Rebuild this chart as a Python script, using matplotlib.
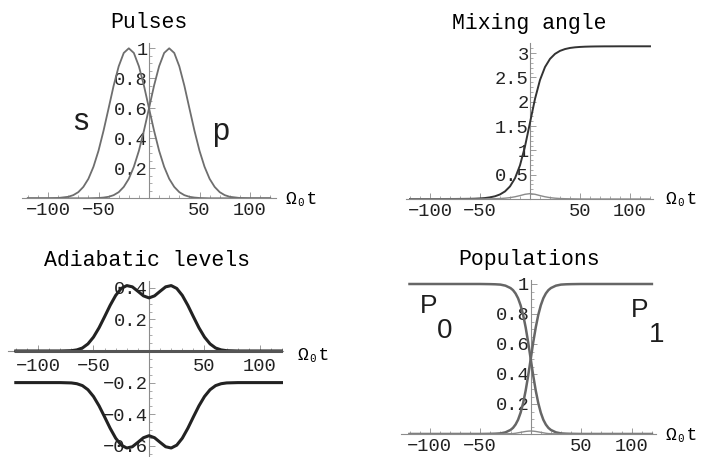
"""
Four-panel STIRAP overview: pulses, mixing angle, adiabatic levels, populations
Mathematica-style axes crossing at the origin
"""
import matplotlib
matplotlib.use('Agg')
import matplotlib.pyplot as plt

plt.rcParams['font.family'] = ['Liberation Mono', 'DejaVu Sans']
plt.rcParams['axes.unicode_minus'] = True

# time grid shared by the first three panels (units of 1/Omega_0)
t = [-120, -110, -100, -90, -80, -75, -70, -65, -60, -55, -50, -45, -40, -35,
     -30, -25, -20, -15, -10, -5, 0, 5, 10, 15, 20, 25, 30, 35, 40, 45, 50,
     55, 60, 65, 70, 75, 80, 90, 100, 110, 120]

# pulses
omega_s = [0, 0, 0, 0.002, 0.010, 0.021, 0.041, 0.076, 0.130, 0.210, 0.317,
           0.451, 0.600, 0.751, 0.880, 0.969, 1.000, 0.969, 0.880, 0.751,
           0.600, 0.451, 0.317, 0.210, 0.130, 0.076, 0.041, 0.021, 0.010,
           0.005, 0.002, 0.001, 0, 0, 0, 0, 0, 0, 0, 0, 0]
omega_p = [0, 0, 0, 0, 0, 0, 0, 0, 0, 0.001, 0.002, 0.005, 0.010, 0.021,
           0.041, 0.076, 0.130, 0.210, 0.317, 0.451, 0.600, 0.751, 0.880,
           0.969, 1.000, 0.969, 0.880, 0.751, 0.600, 0.451, 0.317, 0.210,
           0.130, 0.076, 0.041, 0.021, 0.010, 0.002, 0, 0, 0]

# mixing angle and its small derivative bump
theta = [0, 0, 0, 0, 0.001, 0.001, 0.002, 0.003, 0.004, 0.007, 0.012, 0.020,
         0.034, 0.056, 0.094, 0.156, 0.259, 0.427, 0.693, 1.082, 1.571,
         2.060, 2.449, 2.715, 2.883, 2.986, 3.048, 3.085, 3.108, 3.121,
         3.129, 3.134, 3.137, 3.139, 3.140, 3.141, 3.141, 3.142, 3.142,
         3.142, 3.142]
coupling = [0, 0, 0, 0, 0, 0, 0, 0, 0, 0, 0.001, 0.002, 0.004, 0.006, 0.010,
            0.017, 0.028, 0.046, 0.070, 0.097, 0.110, 0.097, 0.070, 0.046,
            0.028, 0.017, 0.010, 0.006, 0.004, 0.002, 0.001,
            0, 0, 0, 0, 0, 0, 0, 0, 0, 0]

# adiabatic levels
eps_up = [0, 0, 0, 0, 0, 0.001, 0.002, 0.007, 0.019, 0.045, 0.088, 0.147,
          0.217, 0.289, 0.352, 0.396, 0.414, 0.406, 0.378, 0.349, 0.336,
          0.349, 0.378, 0.406, 0.414, 0.396, 0.352, 0.289, 0.217, 0.147,
          0.088, 0.045, 0.019, 0.007, 0.002, 0.001, 0, 0, 0, 0, 0]
eps_mid = [0.0] * 41
eps_down = [-0.200, -0.200, -0.200, -0.200, -0.200, -0.201, -0.202, -0.207,
            -0.219, -0.245, -0.288, -0.347, -0.417, -0.489, -0.552, -0.596,
            -0.614, -0.606, -0.578, -0.549, -0.536, -0.549, -0.578, -0.606,
            -0.614, -0.596, -0.552, -0.489, -0.417, -0.347, -0.288, -0.245,
            -0.219, -0.207, -0.202, -0.201, -0.200, -0.200, -0.200, -0.200,
            -0.200]

# populations (finer grid around the transfer)
t_pop = [-120, -100, -80, -60, -50, -40, -35, -30, -25, -20, -17.5, -15,
         -12.5, -10, -7.5, -5, -2.5, 0, 2.5, 5, 7.5, 10, 12.5, 15, 17.5, 20,
         25, 30, 35, 40, 50, 60, 80, 100, 120]
pop_0 = [1, 1, 1, 1, 1, 0.999, 0.998, 0.996, 0.989, 0.973, 0.959, 0.937,
         0.905, 0.858, 0.794, 0.711, 0.611, 0.500, 0.389, 0.289, 0.206,
         0.142, 0.095, 0.063, 0.041, 0.027, 0.011, 0.004, 0.002, 0.001,
         0, 0, 0, 0, 0]
pop_1 = [0, 0, 0, 0, 0, 0.001, 0.002, 0.004, 0.011, 0.027, 0.041, 0.063,
         0.095, 0.142, 0.206, 0.289, 0.389, 0.500, 0.611, 0.711, 0.794,
         0.858, 0.905, 0.937, 0.959, 0.973, 0.989, 0.996, 0.998, 0.999,
         1, 1, 1, 1, 1]
pop_2 = [0, 0, 0, 0, 0, 0, 0, 0, 0.001, 0.002, 0.003, 0.005, 0.008, 0.011,
         0.014, 0.017, 0.019, 0.020, 0.019, 0.017, 0.014, 0.011, 0.008,
         0.005, 0.003, 0.002, 0.001, 0, 0, 0, 0, 0, 0, 0, 0]

# ticks
x_ticks = [-100, -50, 50, 100]
x_tick_labels = ['\u2212100', '\u221250', '50', '100']
pulse_ticks = [0.2, 0.4, 0.6, 0.8, 1]
pulse_tick_labels = ['0.2', '0.4', '0.6', '0.8', '1']
angle_ticks = [0.5, 1, 1.5, 2, 2.5, 3]
angle_tick_labels = ['0.5', '1', '1.5', '2', '2.5', '3']
level_ticks = [-0.6, -0.4, -0.2, 0.2, 0.4]
level_tick_labels = ['\u22120.6', '\u22120.4', '\u22120.2', '0.2', '0.4']

W, H = 706, 457
AXIS_GREY = '#8c8c8c'
LABEL_INK = '#1e1e1e'

fig = plt.figure(figsize=(W / 100, H / 100), dpi=100)
fig.patch.set_facecolor('white')


def panel(ox, oy, sx, sy, xlim, ylim, yticks, ylabels, yminor):
    """Place an axes so that data (0,0) lands on pixel (ox, oy)."""
    left = ox + xlim[0] * sx
    right = ox + xlim[1] * sx
    top = oy - ylim[1] * sy
    bottom = oy - ylim[0] * sy
    ax = fig.add_axes([left / W, 1 - bottom / H, (right - left) / W,
                       (bottom - top) / H])
    ax.set_xlim(xlim)
    ax.set_ylim(ylim)
    ax.patch.set_visible(False)
    for side in ('top', 'right'):
        ax.spines[side].set_visible(False)
    for side in ('left', 'bottom'):
        ax.spines[side].set_position(('data', 0))
        ax.spines[side].set_color(AXIS_GREY)
        ax.spines[side].set_linewidth(0.8)
    ax.set_xticks(x_ticks, x_tick_labels)
    ax.set_xticks(list(range(-120, 121, 10)), minor=True)
    ax.set_yticks(yticks, ylabels)
    ax.set_yticks(yminor, minor=True)
    ax.tick_params(which='major', direction='in', length=4, width=0.6,
                   color=AXIS_GREY, labelsize=13.5, labelcolor='#222222')
    ax.tick_params(which='minor', direction='in', length=2, width=0.5,
                   color=AXIS_GREY)
    ax.tick_params(axis='x', pad=3)
    ax.tick_params(axis='y', pad=1)
    return ax


def ftext(x, y, s, **kw):
    fig.text(x / W, 1 - y / H, s, **kw)


def big_label(x, y, s, size):
    ftext(x, y, s, ha='center', va='baseline', size=size,
          family='Liberation Sans', color=LABEL_INK)


# Pulses
ax1 = panel(149, 198.3, 1.01, 150, (-126, 126), (0, 1.035),
            pulse_ticks, pulse_tick_labels, [i * 0.05 for i in range(1, 21)])
ax1.plot(t, omega_s, color='#6e6e6e', lw=1.3, zorder=3)
ax1.plot(t, omega_p, color='#6e6e6e', lw=1.3, zorder=3)
ftext(148.5, 23, 'Pulses', ha='center', va='center', size=15.5)
big_label(81, 130, 's', 22)
big_label(220.5, 140, 'p', 22)
ftext(285, 200, '\u03a9\u2080t', ha='left', va='center', size=13)

# Mixing angle
ax2 = panel(530, 199, 1.0, 48.6, (-124, 123), (0, 3.2),
            angle_ticks, angle_tick_labels, [i * 0.1 for i in range(1, 32)])
ax2.spines['left'].set_linestyle((0, (1.5, 1)))
ax2.plot(t, theta, color='#333333', lw=1.4, zorder=3)
ax2.plot(t, coupling, color='#8a8a8a', lw=1.0, zorder=3)
ftext(529, 24, 'Mixing angle', ha='center', va='center', size=15.5)
ftext(665, 200, '\u03a9\u2080t', ha='left', va='center', size=13)

# Adiabatic levels
ax3 = panel(149, 351, 1.11, 158, (-127, 121), (-0.67, 0.445),
            level_ticks, level_tick_labels,
            [round(-0.65 + i * 0.05, 2) for i in range(22)])
ax3.plot(t, eps_up, color='#222222', lw=2.2, zorder=3)
ax3.plot(t, eps_mid, color='#555555', lw=2.2, zorder=3)
ax3.plot(t, eps_down, color='#222222', lw=2.2, zorder=3)
ax3.tick_params(axis='x', pad=5)
ftext(147, 260, 'Adiabatic levels', ha='center', va='center', size=15.5)
ftext(298, 355, '\u03a9\u2080t', ha='left', va='center', size=13)

# Populations
ax4 = panel(530.7, 434, 1.01, 150, (-128, 124), (0, 1.03),
            pulse_ticks, pulse_tick_labels, [i * 0.05 for i in range(1, 21)])
ax4.plot(t_pop, pop_0, color='#666666', lw=1.8, zorder=3)
ax4.plot(t_pop, pop_1, color='#666666', lw=1.8, zorder=3)
ax4.plot(t_pop, pop_2, color='#8a8a8a', lw=1.0, zorder=3)
ftext(529.5, 260, 'Populations', ha='center', va='center', size=15.5)
big_label(429, 313.3, 'P', 19)
big_label(444.7, 338.3, '0', 20)
big_label(639.7, 316.7, 'P', 19)
big_label(656.7, 342.3, '1', 20)
ftext(666, 436, '\u03a9\u2080t', ha='left', va='center', size=13)

fig.savefig('out.png', dpi=100)
